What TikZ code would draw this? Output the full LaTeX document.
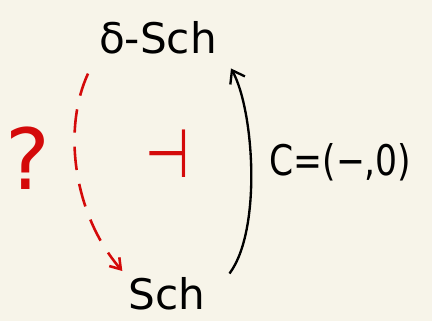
\documentclass[tikz,border=0pt]{standalone}
\usepackage{fontspec}
\setmainfont{DejaVu Sans}
\usetikzlibrary{arrows.meta,positioning}
\definecolor{paper}{HTML}{F7F4E9}
\definecolor{inkred}{HTML}{D40A0A}
\newcommand{\hand}{\fontsize{36}{42}\selectfont}

\begin{document}
\begin{tikzpicture}[x=0.03cm,y=-0.03cm]
\fill[paper] (0,0) rectangle (432,321);\useasboundingbox (0,0) rectangle (432,321);
\node (dsch) at (158,38){\hand δ-Sch};
\node (sch) at (167,294){\hand Sch};
\node[inkred] (qm) at (28,158){\fontsize{72}{80}\selectfont ?};
\node[inkred,xscale=0.75,transform shape] (adj) at (168,154){\fontsize{58}{64}\selectfont ⊣};
\node[anchor=west,xscale=0.82,transform shape] (cval) at (266,162){\fontsize{36}{42}\selectfont C=(−,0)};
% the dashed red arrow on the left
\draw[inkred,line width=2.2pt,dash pattern=on 20pt off 12pt,-{Straight Barb[length=3mm,width=4mm]},shorten <=5mm,shorten >=1mm]
  (dsch.south west) .. controls (62,130) and (74,215) .. (sch.north west);
\draw[line width=2pt,-{Straight Barb[length=3.5mm,width=5mm]}]
  ([xshift=6mm]sch.north east) .. controls (262,230) and (254,110) .. ([xshift=3mm,yshift=-3mm]dsch.south east);
\end{tikzpicture}
\end{document}
